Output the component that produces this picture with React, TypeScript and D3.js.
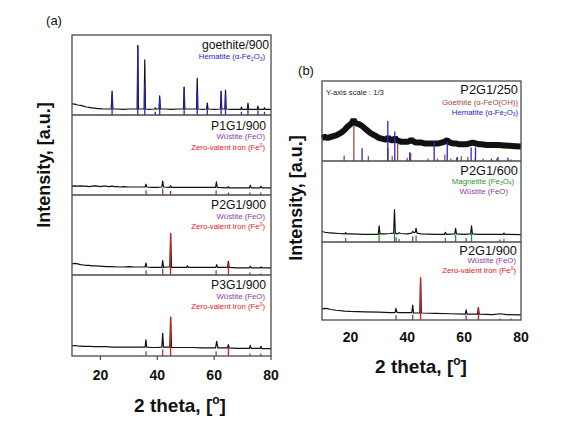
import React from "react";
import * as d3 from "d3";

type Pt = [number, number];

const X_DOMAIN: [number, number] = [10, 80];
const X_TICKS = [20, 40, 60, 80];

// ---------- Panel (a) data : [2θ, intensity (% of sub-panel height)] ----------
const goethite900Trace: Pt[] = [
  [10, 14], [11, 13.5], [12, 12.5], [13, 12], [14, 11], [15, 10], [16, 9.5], [17, 9], [18, 8.5], [19, 8], [20, 8],
  [21, 7.5], [22, 7.5], [23, 7.5], [23.8, 7.5], [24.1, 30], [24.4, 7.5], [26, 7.5], [28, 7], [30, 7.5], [32, 7.5],
  [32.9, 7.5], [33.15, 87], [33.4, 7.5], [35.35, 7.5], [35.6, 69], [35.85, 7.5], [37, 7], [39.1, 7.5], [39.3, 9],
  [39.5, 7.5], [40.6, 7.5], [40.85, 24], [41.1, 7.5], [43, 7.5], [45, 7], [47, 7.5], [49.2, 7.5], [49.45, 35],
  [49.7, 7.5], [52, 7.5], [53.8, 7.5], [54.05, 46], [54.3, 7.5], [56, 7], [57.35, 7.5], [57.6, 15], [57.85, 7.5],
  [60, 7], [62.2, 7.5], [62.45, 30], [62.7, 7.5], [63.75, 7.5], [64.0, 31], [64.25, 7.5], [66, 7], [69.35, 7],
  [69.6, 10], [69.85, 7], [71.65, 7], [71.9, 15], [72.15, 7], [75.15, 7], [75.4, 11], [75.65, 7], [77.45, 7],
  [77.7, 9], [77.95, 7], [80, 7],
];
const goethite900Hematite: Pt[] = [
  [24.1, 26], [33.15, 87], [35.6, 40], [39.3, 4], [40.85, 20], [49.45, 35], [54.05, 30], [57.6, 8],
  [62.45, 29], [64.0, 26], [69.6, 4], [71.9, 8], [75.4, 6], [77.7, 4],
];

const p1g1Trace: Pt[] = [
  [10, 11], [11, 11.5], [12, 11], [13, 11.5], [14, 11], [15, 11], [16, 10.5], [17, 11], [18, 11.5], [19, 11],
  [20, 10.5], [21, 11], [22, 11], [23, 10.5], [24, 11], [25, 10.5], [26, 10.5], [27, 10], [28, 10.5], [30, 10],
  [32, 10], [34, 10], [35.7, 10], [36.0, 13.5], [36.3, 10], [38, 9.5], [40, 9.5], [41.6, 10], [41.9, 17.5],
  [42.2, 10], [44.4, 9.5], [44.7, 11.5], [45, 9.5], [48, 9.5], [50, 9.5], [54, 9.5], [58, 9.5], [60.5, 9.5],
  [60.8, 16.5], [61.1, 9.5], [64.7, 9], [65.0, 10.5], [65.3, 9], [68, 9], [72.4, 9], [72.7, 12], [73.0, 9],
  [76.2, 9], [76.5, 11], [76.8, 9], [80, 9],
];
const p1g1Wustite: Pt[] = [[36.06, 6], [41.9, 8], [60.7, 6], [72.6, 3], [76.4, 3]];
const p1g1Iron: Pt[] = [[44.67, 5], [65.02, 3]];

const p2g1aTrace: Pt[] = [
  [10, 14], [11, 14.5], [12, 14], [13, 13], [14, 12.5], [15, 12], [16, 12], [17, 11.5], [18, 11.5], [20, 11],
  [22, 10.5], [24, 10.5], [26, 10], [28, 10], [30, 10.5], [32, 10], [34, 10], [35.7, 10], [36.0, 15], [36.3, 10],
  [38, 9.5], [40, 9.5], [41.6, 9.5], [41.9, 18], [42.2, 9.5], [43.5, 10], [44.4, 10], [44.7, 52], [45.0, 9.5],
  [47, 9.5], [50.3, 9.5], [50.6, 11.5], [50.9, 9.5], [55, 9.5], [60.6, 9.5], [60.9, 13], [61.2, 9.5], [64.7, 9.5],
  [65.0, 17], [65.3, 9.5], [68, 9], [72.4, 9], [72.7, 11], [73.0, 9], [76.2, 9], [76.5, 10], [76.8, 9], [80, 9],
];
const p2g1aWustite: Pt[] = [[36.06, 6], [41.9, 8], [60.7, 6], [72.6, 3], [76.4, 2]];
const p2g1aIron: Pt[] = [[44.67, 52], [65.02, 15]];

const p3g1Trace: Pt[] = [
  [10, 12.5], [11, 13], [12, 12.5], [14, 12], [16, 12], [18, 11.5], [20, 11.5], [22, 11.5], [24, 11], [26, 11],
  [28, 11], [30, 11], [32, 11], [34, 11], [35.7, 11], [36.0, 20], [36.3, 11], [38, 10.5], [40, 10.5], [41.6, 11],
  [41.9, 28], [42.2, 11], [43, 11], [44.4, 11], [44.7, 48], [45.0, 10.5], [48, 10.5], [52, 10.5], [56, 10],
  [60.5, 10], [60.9, 18], [61.3, 10], [64.7, 10], [65.0, 14], [65.3, 10], [68, 9.5], [72.4, 9.5], [72.7, 13],
  [73.0, 9.5], [76.2, 9.5], [76.5, 12], [76.8, 9], [80, 9],
];
const p3g1Wustite: Pt[] = [[36.06, 6], [41.9, 8], [60.7, 6], [72.6, 3], [76.4, 3]];
const p3g1Iron: Pt[] = [[44.67, 48], [65.02, 10]];

// ---------- Panel (b) data ----------
const p2g1_250Trace: Pt[] = [
  [10, 29], [11, 30], [12, 29], [13, 30], [14, 31], [15, 32], [16, 34], [17, 36], [18, 39], [19, 43], [20, 46],
  [20.6, 48], [21.1, 52], [21.6, 48], [22, 47], [23, 46], [24, 44], [25, 41], [26, 38], [27, 35], [28, 33],
  [29, 31], [30, 29], [31, 28], [32, 27], [32.8, 27], [33.3, 30], [33.8, 27], [34.5, 26], [35.2, 26], [35.7, 29],
  [36.3, 26], [37, 25], [38, 24], [39, 24], [40, 24], [40.9, 25], [41.4, 27], [41.9, 25], [43, 23], [44, 23],
  [45, 23], [46, 22], [47, 22], [48, 22], [49, 22], [50, 22], [51, 22], [52, 23], [53, 24], [54, 26], [55, 23],
  [56, 22], [57, 22], [58, 21], [59, 21], [60, 21], [61, 21], [62, 22], [63, 23], [64, 22], [65, 21], [66, 21],
  [68, 20], [70, 20], [72, 20], [74, 19.5], [76, 19], [78, 18.5], [80, 18],
];
const p2g1_250Goethite: Pt[] = [
  [17.8, 7], [21.2, 45], [26.3, 6], [33.2, 16], [34.7, 6], [36.6, 22], [39.98, 4], [41.2, 10], [47.3, 3],
  [50.6, 3], [53.2, 8], [55.3, 3], [57.4, 4], [59.0, 6], [61.3, 5], [63.9, 3], [66.7, 3], [71.5, 3], [76.5, 2],
];
const p2g1_250Hematite: Pt[] = [
  [24.1, 16], [33.15, 50], [35.6, 37], [40.85, 11], [49.45, 24], [54.05, 24], [57.6, 5], [62.45, 17],
  [64.0, 17], [69.6, 3], [71.9, 5], [75.4, 4],
];

const p2g1_600Trace: Pt[] = [
  [10, 13], [11, 12], [12, 11.5], [14, 11], [16, 10.5], [18, 10], [18.3, 11.5], [18.6, 10], [20, 10], [25, 9.5],
  [29.8, 9.5], [30.1, 20], [30.4, 10], [32, 10], [34, 10.5], [35.2, 11], [35.5, 40], [35.8, 11], [36.5, 10],
  [37.1, 11.5], [37.6, 10.5], [40, 10], [41.5, 11], [41.9, 13], [42.4, 11.5], [42.8, 12], [43.1, 17], [43.4, 11],
  [45, 10], [50, 9.5], [53.1, 9.5], [53.4, 12], [53.7, 9.5], [56.7, 10], [57.0, 17], [57.3, 10], [60, 9.5],
  [62.3, 10], [62.6, 20], [62.9, 10], [65, 9.5], [70, 9.5], [73.7, 9.5], [74.0, 11], [74.3, 9.5], [80, 9],
];
const p2g1_600Magnetite: Pt[] = [
  [18.3, 5], [30.1, 10], [35.5, 12], [37.1, 4], [43.1, 8], [53.4, 5], [57.0, 9], [62.6, 10], [74.0, 4],
];
const p2g1_600Wustite: Pt[] = [[36.06, 6], [41.9, 7], [60.7, 5], [72.6, 3]];

const p2g1_900Trace: Pt[] = [
  [10, 14], [11, 15], [12, 14.5], [13, 13.5], [15, 12.5], [18, 11.5], [20, 11], [25, 10.5], [30, 10], [34, 9.5],
  [35.7, 9.5], [36.0, 15], [36.3, 10], [37, 9.5], [40, 9.5], [41.6, 9.5], [41.9, 19], [42.2, 9], [43.5, 9],
  [44.4, 9], [44.67, 54], [44.95, 9], [50, 8.5], [55, 8], [60.4, 7.5], [60.7, 13], [61.0, 7.5], [64.7, 7.5],
  [65.0, 16], [65.3, 7.5], [70, 7], [72.6, 8], [75, 7], [80, 6.5],
];
const p2g1_900Wustite: Pt[] = [[36.06, 6], [41.9, 7], [60.7, 6], [72.6, 2], [76.4, 2]];
const p2g1_900Iron: Pt[] = [[44.67, 54], [65.02, 16]];

// ---------- styling ----------
const FONT = "'Liberation Sans', Arial, Helvetica, sans-serif";
const C_HEM = "#2626d4";
const C_WUS = "#8a3aa2";
const C_FE = "#e8141c";
const C_MAG = "#1f9a2a";
const C_GOE = "#a54848";
const FRAME = "#4a4a4a";

type Part = { t: string; sub?: boolean; sup?: boolean };
type Label = { parts: Part[]; color: string; size: number; dy: number; xEnd: number };
type Sticks = { data: Pt[]; color: string };

function RichText({ label, x, y }: { label: Label; x: number; y: number }) {
  return (
    <text x={x} y={y} textAnchor="end" fontFamily={FONT} fontSize={label.size} fill={label.color}>
      {label.parts.map((p, i) => {
        if (p.sub)
          return (
            <tspan key={i} fontSize={label.size * 0.62} dy={label.size * 0.22}>
              {p.t}
            </tspan>
          );
        if (p.sup)
          return (
            <tspan key={i} fontSize={label.size * 0.62} dy={-label.size * 0.35}>
              {p.t}
            </tspan>
          );
        const prev = label.parts[i - 1];
        const dy = prev ? (prev.sub ? -label.size * 0.22 : prev.sup ? label.size * 0.35 : 0) : 0;
        return (
          <tspan key={i} dy={dy}>
            {p.t}
          </tspan>
        );
      })}
    </text>
  );
}

function SubPanel({
  x, top, bottom, trace, sticks, lineWidth, labels,
}: {
  x: d3.ScaleLinear<number, number>; top: number; bottom: number; trace: Pt[]; sticks: Sticks[];
  lineWidth: number; labels: Label[];
}) {
  const y = d3.scaleLinear().domain([0, 100]).range([bottom, top]);
  const line = d3.line<Pt>().x((d) => x(d[0])).y((d) => y(d[1]));
  return (
    <g>
      <path d={line(trace) || ""} fill="none" stroke="#111" strokeWidth={lineWidth}
        strokeLinejoin={lineWidth > 3 ? "bevel" : "round"} />
      {sticks.map((s, si) =>
        s.data.map(([t, h], i) => (
          <line key={`${si}-${i}`} x1={x(t)} x2={x(t)} y1={y(0)} y2={y(h)} stroke={s.color} strokeWidth={1.3} />
        ))
      )}
      {labels.map((l, i) => (
        <RichText key={i} label={l} x={l.xEnd} y={top + l.dy} />
      ))}
    </g>
  );
}

const hemParts: Part[] = [{ t: "Hematite (α-Fe" }, { t: "2", sub: true }, { t: "O" }, { t: "3", sub: true }, { t: ")" }];
const wusParts: Part[] = [{ t: "Wüstite (FeO)" }];
const feParts: Part[] = [{ t: "Zero-valent iron (Fe" }, { t: "0", sup: true }, { t: ")" }];
const goeParts: Part[] = [{ t: "Goethite (α-FeO(OH))" }];
const magParts: Part[] = [{ t: "Magnetite (Fe" }, { t: "3", sub: true }, { t: "O" }, { t: "4", sub: true }, { t: ")" }];

export default function App() {
  const xA = d3.scaleLinear().domain(X_DOMAIN).range([72, 271]);
  const xB = d3.scaleLinear().domain(X_DOMAIN).range([322, 521]);
  const aTops = [35, 115, 195, 275];
  const aBottom = 356;
  const bTops = [81, 161, 242];
  const bBottom = 320;
  const LS = 7.8;

  const aPanels = [
    {
      trace: goethite900Trace,
      sticks: [{ data: goethite900Hematite, color: C_HEM }],
      labels: [
        { parts: [{ t: "goethite/900" }], color: "#111", size: 12.2, dy: 13.5, xEnd: 269 },
        { parts: hemParts, color: C_HEM, size: LS, dy: 24, xEnd: 265 },
      ],
    },
    {
      trace: p1g1Trace,
      sticks: [{ data: p1g1Wustite, color: C_WUS }, { data: p1g1Iron, color: C_FE }],
      labels: [
        { parts: [{ t: "P1G1/900" }], color: "#111", size: 12.2, dy: 14.5, xEnd: 266 },
        { parts: wusParts, color: C_WUS, size: LS, dy: 24, xEnd: 265 },
        { parts: feParts, color: C_FE, size: LS, dy: 34.5, xEnd: 265 },
      ],
    },
    {
      trace: p2g1aTrace,
      sticks: [{ data: p2g1aWustite, color: C_WUS }, { data: p2g1aIron, color: C_FE }],
      labels: [
        { parts: [{ t: "P2G1/900" }], color: "#111", size: 12.2, dy: 14, xEnd: 266 },
        { parts: wusParts, color: C_WUS, size: LS, dy: 23.5, xEnd: 265 },
        { parts: feParts, color: C_FE, size: LS, dy: 34, xEnd: 265 },
      ],
    },
    {
      trace: p3g1Trace,
      sticks: [{ data: p3g1Wustite, color: C_WUS }, { data: p3g1Iron, color: C_FE }],
      labels: [
        { parts: [{ t: "P3G1/900" }], color: "#111", size: 12.2, dy: 14, xEnd: 266 },
        { parts: wusParts, color: C_WUS, size: LS, dy: 23.5, xEnd: 265 },
        { parts: feParts, color: C_FE, size: LS, dy: 34, xEnd: 265 },
      ],
    },
  ];

  const bPanels = [
    {
      trace: p2g1_250Trace,
      lw: 6,
      sticks: [{ data: p2g1_250Goethite, color: C_GOE }, { data: p2g1_250Hematite, color: C_HEM }],
      labels: [
        { parts: [{ t: "P2G1/250" }], color: "#111", size: 12.8, dy: 13, xEnd: 518 },
        { parts: goeParts, color: C_GOE, size: LS, dy: 23.5, xEnd: 518 },
        { parts: hemParts, color: C_HEM, size: LS, dy: 33.5, xEnd: 518 },
      ],
    },
    {
      trace: p2g1_600Trace,
      lw: 1.2,
      sticks: [{ data: p2g1_600Magnetite, color: C_MAG }, { data: p2g1_600Wustite, color: C_WUS }],
      labels: [
        { parts: [{ t: "P2G1/600" }], color: "#111", size: 12.8, dy: 13.5, xEnd: 518 },
        { parts: magParts, color: C_MAG, size: LS, dy: 22.5, xEnd: 514 },
        { parts: wusParts, color: C_WUS, size: LS, dy: 32.5, xEnd: 508 },
      ],
    },
    {
      trace: p2g1_900Trace,
      lw: 1.2,
      sticks: [{ data: p2g1_900Wustite, color: C_WUS }, { data: p2g1_900Iron, color: C_FE }],
      labels: [
        { parts: [{ t: "P2G1/900" }], color: "#111", size: 12.8, dy: 12.5, xEnd: 517 },
        { parts: wusParts, color: C_WUS, size: LS, dy: 21, xEnd: 516 },
        { parts: feParts, color: C_FE, size: LS, dy: 31, xEnd: 516 },
      ],
    },
  ];

  return (
    <svg width={566} height={437} style={{ position: "absolute", left: 0, top: 0, background: "#fff" }}>
      <rect x={0} y={0} width={566} height={437} fill="#fff" />
      {/* Panel (a) */}
      <text x={54} y={25} textAnchor="middle" fontFamily={FONT} fontSize={13} fill="#111">(a)</text>
      {aPanels.map((p, i) => (
        <SubPanel key={i} x={xA} top={aTops[i]} bottom={i < 3 ? aTops[i + 1] : aBottom} trace={p.trace}
          sticks={p.sticks} lineWidth={1.2} labels={p.labels as Label[]} />
      ))}
      <rect x={72} y={aTops[0]} width={199} height={aBottom - aTops[0]} fill="none" stroke={FRAME} strokeWidth={1.3} />
      {aTops.slice(1).map((t) => (
        <line key={t} x1={72} x2={271} y1={t} y2={t} stroke={FRAME} strokeWidth={1.3} />
      ))}
      {X_TICKS.map((t) => (
        <g key={t}>
          <line x1={xA(t)} x2={xA(t)} y1={aBottom} y2={aBottom + 4} stroke={FRAME} strokeWidth={1.2} />
          <text x={xA(t)} y={380} textAnchor="middle" fontFamily={FONT} fontWeight="bold" fontSize={14} fill="#111">{t}</text>
        </g>
      ))}
      <text x={180} y={412} textAnchor="middle" fontFamily={FONT} fontWeight="bold" fontSize={19} fill="#111">
        2 theta, [<tspan fontSize={12} dy={-8}>o</tspan><tspan dy={8}>]</tspan>
      </text>
      <text transform="translate(44,165) rotate(-90)" textAnchor="middle" dominantBaseline="central" fontFamily={FONT}
        fontWeight="bold" fontSize={18} fill="#111">Intensity, [a.u.]</text>

      {/* Panel (b) */}
      <text x={306} y={75} textAnchor="middle" fontFamily={FONT} fontSize={13} fill="#111">(b)</text>
      {bPanels.map((p, i) => (
        <SubPanel key={i} x={xB} top={bTops[i]} bottom={i < 2 ? bTops[i + 1] : bBottom} trace={p.trace}
          sticks={p.sticks} lineWidth={p.lw} labels={p.labels as Label[]} />
      ))}
      <text x={326} y={94.5} fontFamily={FONT} fontSize={7.7} fill="#222">Y-axis scale : 1/3</text>
      <rect x={322} y={bTops[0]} width={199} height={bBottom - bTops[0]} fill="none" stroke={FRAME} strokeWidth={1.3} />
      {bTops.slice(1).map((t) => (
        <line key={t} x1={322} x2={521} y1={t} y2={t} stroke={FRAME} strokeWidth={1.3} />
      ))}
      {X_TICKS.map((t) => (
        <text key={t} x={xB(t)} y={342} textAnchor="middle" fontFamily={FONT} fontWeight="bold" fontSize={14} fill="#111">{t}</text>
      ))}
      <text x={421} y={373} textAnchor="middle" fontFamily={FONT} fontWeight="bold" fontSize={19} fill="#111">
        2 theta, [<tspan fontSize={12} dy={-8}>o</tspan><tspan dy={8}>]</tspan>
      </text>
      <text transform="translate(296,198) rotate(-90)" textAnchor="middle" dominantBaseline="central" fontFamily={FONT}
        fontWeight="bold" fontSize={18} fill="#111">Intensity, [a.u.]</text>
    </svg>
  );
}
